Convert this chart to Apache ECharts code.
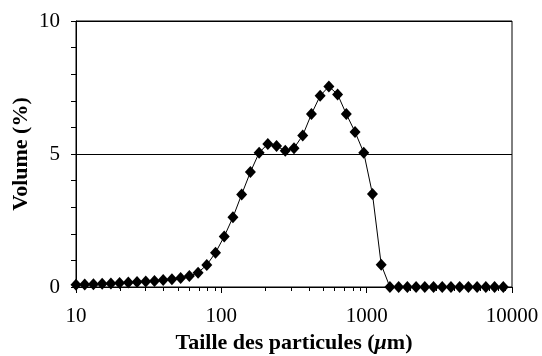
<!DOCTYPE html>
<html>
<head>
<meta charset="utf-8">
<script src="https://cdn.jsdelivr.net/npm/echarts@6/dist/echarts.min.js"></script>
<style>
  html, body { margin: 0; padding: 0; background: #fff; }
  #main { width: 542px; height: 356px; }
</style>
</head>
<body>
<div id="main"></div>
<script>
// taille des particules (um)
var tailles = [10, 11.48, 13.18, 15.14, 17.38, 19.95, 22.91, 26.30, 30.20, 34.67,
    39.81, 45.71, 52.48, 60.26, 69.18, 79.43, 91.20, 104.7, 120.2, 138.0,
    158.5, 182.0, 208.9, 239.9, 275.4, 316.2, 363.1, 416.9, 478.6, 549.5,
    631.0, 724.4, 831.8, 955.0, 1096, 1259, 1445, 1660, 1905, 2188,
    2512, 2884, 3311, 3802, 4365, 5012, 5754, 6607, 7586, 8710];
// volume (%)
var volumes = [0.08, 0.09, 0.10, 0.12, 0.13, 0.15, 0.17, 0.19, 0.21, 0.23,
    0.26, 0.29, 0.34, 0.41, 0.54, 0.83, 1.29, 1.90, 2.62, 3.48,
    4.32, 5.05, 5.38, 5.30, 5.12, 5.22, 5.70, 6.50, 7.19, 7.54,
    7.24, 6.50, 5.83, 5.05, 3.50, 0.84, 0, 0, 0, 0,
    0, 0, 0, 0, 0, 0, 0, 0, 0, 0];
// graduations secondaires de l'axe log
var minorTicksX = [20, 30, 40, 50, 60, 70, 80, 90,
    200, 300, 400, 500, 600, 700, 800, 900,
    2000, 3000, 4000, 5000, 6000, 7000, 8000, 9000];

var police = '"Liberation Serif", "Times New Roman", serif';
var points = [];
for (var i = 0; i < tailles.length; i++) {
    points.push([tailles[i], volumes[i]]);
}

var chart = echarts.init(document.getElementById('main'));
var option = {
    animation: false,
    grid: {
        left: 76, right: 30, top: 21, bottom: 69,
        outerBoundsMode: 'none',
        containLabel: false,
        show: true,
        borderColor: '#000',
        borderWidth: 1
    },
    xAxis: {
        type: 'log',
        logBase: 10,
        min: 10,
        max: 10000,
        name: 'Taille des particules ({mu|\u03bc}m)',
        nameLocation: 'middle',
        nameGap: 44,
        nameTextStyle: {
            fontFamily: police, fontSize: 22, fontWeight: 'bold', color: '#000',
            rich: {
                mu: { fontFamily: police, fontSize: 22, fontWeight: 'bold', fontStyle: 'italic', color: '#000' }
            }
        },
        axisLine: { lineStyle: { color: '#000', width: 1 } },
        axisTick: { show: true, length: 6, lineStyle: { color: '#000' } },
        axisLabel: {
            fontFamily: police, fontSize: 21, color: '#000', margin: 19,
            formatter: function (value) { return String(Math.round(value)); }
        },
        splitLine: { show: false }
    },
    yAxis: {
        type: 'value',
        min: 0,
        max: 10,
        interval: 5,
        name: 'Volume (%)',
        nameLocation: 'middle',
        nameGap: 44,
        nameMoveOverlap: false,
        nameTextStyle: { fontFamily: police, fontSize: 22, fontWeight: 'bold', color: '#000' },
        axisLine: { show: true, lineStyle: { color: '#000', width: 1 } },
        axisTick: { show: true, length: 5, lineStyle: { color: '#000' } },
        minorTick: { show: true, splitNumber: 5, length: 5, lineStyle: { color: '#000' } },
        axisLabel: { fontFamily: police, fontSize: 21, color: '#000', margin: 16 },
        splitLine: { show: true, lineStyle: { color: '#000', width: 1 } }
    },
    series: [
        {
            type: 'line',
            data: points,
            symbol: 'diamond',
            symbolSize: [11, 12],
            showAllSymbol: true,
            lineStyle: { color: '#000', width: 1 },
            itemStyle: { color: '#000' }
        }
    ]
};
chart.setOption(option);

// petites graduations de l'axe log, placees avec l'echelle de l'axe
var ticks = minorTicksX.map(function (v) {
    var p = chart.convertToPixel({ gridIndex: 0 }, [v, 0]);
    return {
        type: 'line',
        shape: { x1: Math.round(p[0]) + 0.5, y1: p[1], x2: Math.round(p[0]) + 0.5, y2: p[1] + 4 },
        style: { stroke: '#000', lineWidth: 1 },
        silent: true
    };
});
chart.setOption({ graphic: ticks });
</script>
</body>
</html>
